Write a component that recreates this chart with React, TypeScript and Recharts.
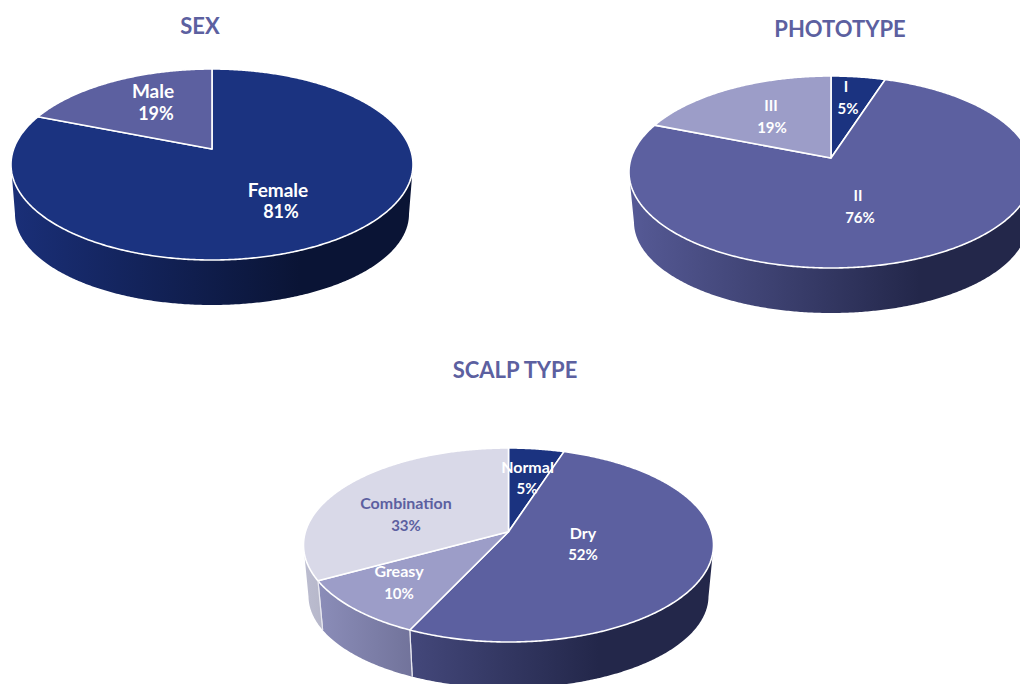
import React from 'react';
import { PieChart, Pie } from 'recharts';

const NAVY = '#1b3380';
const INDIGO = '#5c60a0';
const LAVENDER = '#9c9dc8';
const MIST = '#d9d9e8';

const sexCategories = ['Female', 'Male'];
const sexValues = [81, 19];
const sexColors = [NAVY, INDIGO];

const phototypeCategories = ['I', 'II', 'III'];
const phototypeValues = [5, 76, 19];
const phototypeColors = [NAVY, INDIGO, LAVENDER];

const scalpCategories = ['Normal', 'Dry', 'Greasy', 'Combination'];
const scalpValues = [5, 52, 10, 33];
const scalpColors = [NAVY, INDIGO, LAVENDER, MIST];

// side wall shading per slice colour: left end, then the dark end
const wallShades: Record<string, [string, string]> = {
  [NAVY]: ['#1a2f78', '#0a1435'],
  [INDIGO]: ['#565a96', '#23274a'],
  [LAVENDER]: ['#8f91bd', '#3f4060'],
  [MIST]: ['#bcbdd0', '#606070'],
};

// label anchors per slice: name x, name y, percent x, percent y
const sexLabelAt = [
  [278, 189, 281, 211],
  [153, 90, 156, 113],
];
const phototypeLabelAt = [
  [846, 86, 848, 108],
  [858, 195, 860, 217],
  [771, 105, 772, 127],
];
const scalpLabelAt = [
  [527.5, 466, 527, 488],
  [583, 532, 583, 554],
  [399, 570, 399, 593],
  [406, 502, 406, 525],
];

interface Disc {
  id: string;
  cx: number;
  cy: number;
  rx: number;
  ry: number;
  // how far the slice apex sits above the ellipse centre, as a share of ry
  tilt: number;
  bottomCy: number;
  bottomRx: number;
  bottomRy: number;
}

const sexDisc: Disc = { id: 'sex', cx: 212, cy: 164.5, rx: 201, ry: 95.5, tilt: 0.162, bottomCy: 214, bottomRx: 197, bottomRy: 91 };
const phototypeDisc: Disc = { id: 'photo', cx: 831, cy: 172, rx: 202, ry: 96, tilt: 0.146, bottomCy: 222, bottomRx: 197, bottomRy: 91 };
const scalpDisc: Disc = { id: 'scalp', cx: 508.5, cy: 545, rx: 205, ry: 97, tilt: 0.137, bottomCy: 596, bottomRx: 200, bottomRy: 92 };

const toRows = (names: string[], values: number[], colors: string[]) =>
  names.map((name, i) => ({ name, value: values[i], fill: colors[i] }));

// perspective map of the unit disc: keeps the rim on the ellipse, moves the centre up
const project = (clockDeg: number, tilt: number) => {
  const a = (clockDeg * Math.PI) / 180;
  const u = Math.sin(a);
  const v = Math.cos(a);
  const w = 1 + tilt * v;
  return { u: (u * Math.sqrt(1 - tilt * tilt)) / w, v: (v + tilt) / w };
};

const pathOf = (pts: number[][]) =>
  pts.map((p, i) => `${i ? 'L' : 'M'}${p[0].toFixed(2)} ${p[1].toFixed(2)}`).join(' ');

const makeSlice = (d: Disc) => (props: any) => {
  const from = 90 - props.startAngle;
  const to = 90 - props.endAngle;
  const steps = Math.max(2, Math.ceil((to - from) * 2));
  const rim = Array.from({ length: steps + 1 }, (_, i) => project(from + ((to - from) * i) / steps, d.tilt));
  const top = (p: { u: number; v: number }) => [d.cx + d.rx * p.u, d.cy - d.ry * p.v];
  const bottom = (p: { u: number; v: number }) => [d.cx + d.bottomRx * p.u, d.bottomCy - d.bottomRy * p.v];

  const apexY = d.cy - d.ry * d.tilt;
  const face = `${pathOf([[d.cx, apexY], ...rim.map(top)])} Z`;

  const lower = rim.filter((p) => p.v <= 0);
  const wall = lower.length > 1 ? `${pathOf([...lower.map(top), ...lower.map(bottom).reverse()])} Z` : null;
  const seams = [rim[0], rim[rim.length - 1]].filter((p) => p.v < 0);
  const shades = wallShades[props.fill];
  const gradId = `wall-${d.id}-${props.index}`;

  return (
    <g>
      <defs>
        <linearGradient id={gradId} gradientUnits="userSpaceOnUse" x1={d.cx - d.rx} x2={d.cx + d.rx} y1={0} y2={0}>
          <stop offset="0" stopColor={shades[0]} />
          <stop offset="0.72" stopColor={shades[1]} />
          <stop offset="1" stopColor={shades[1]} />
        </linearGradient>
      </defs>
      {wall && <path d={wall} fill={`url(#${gradId})`} />}
      {seams.map((p, i) => (
        <path key={i} d={pathOf([top(p), bottom(p)])} stroke="#e8e8f0" strokeWidth={1.2} fill="none" />
      ))}
      <path d={face} fill={props.fill} stroke="#ffffff" strokeWidth={1.6} strokeLinejoin="round" />
    </g>
  );
};

const makeLabel = (anchors: number[][], nameSize: number, valueSize: number, darkName?: string) => (props: any) => {
  const at = anchors[props.index];
  const color = props.name === darkName ? INDIGO : '#ffffff';
  return (
    <g fontFamily="Lato, sans-serif" fontWeight={700} fill={color} textAnchor="middle" dominantBaseline="central">
      <text x={at[0]} y={at[1]} fontSize={nameSize}>{props.name}</text>
      <text x={at[2]} y={at[3]} fontSize={valueSize}>{`${props.value}%`}</text>
    </g>
  );
};

const Title = ({ x, y, children }: { x: number; y: number; children: string }) => (
  <text x={x} y={y} textAnchor="middle" dominantBaseline="central" fontFamily="Lato, sans-serif" fontWeight={700} fontSize={22} fill={INDIGO}>
    {children}
  </text>
);

const pieDefaults = {
  dataKey: 'value',
  nameKey: 'name',
  startAngle: 90,
  endAngle: -270,
  innerRadius: 0,
  stroke: 'none',
  labelLine: false,
  isAnimationActive: false,
};

export default function App() {
  return (
    <div style={{ position: 'absolute', left: 0, top: 0, width: 1020, height: 684 }}>
      <PieChart width={1020} height={684} margin={{ top: 0, right: 0, bottom: 0, left: 0 }}>
        <Pie
          {...pieDefaults}
          data={toRows(sexCategories, sexValues, sexColors)}
          cx={sexDisc.cx}
          cy={sexDisc.cy}
          outerRadius={sexDisc.rx}
          shape={makeSlice(sexDisc)}
          label={makeLabel(sexLabelAt, 19, 18)}
        />
        <Pie
          {...pieDefaults}
          data={toRows(phototypeCategories, phototypeValues, phototypeColors)}
          cx={phototypeDisc.cx}
          cy={phototypeDisc.cy}
          outerRadius={phototypeDisc.rx}
          shape={makeSlice(phototypeDisc)}
          label={makeLabel(phototypeLabelAt, 15, 15)}
        />
        <Pie
          {...pieDefaults}
          data={toRows(scalpCategories, scalpValues, scalpColors)}
          cx={scalpDisc.cx}
          cy={scalpDisc.cy}
          outerRadius={scalpDisc.rx}
          shape={makeSlice(scalpDisc)}
          label={makeLabel(scalpLabelAt, 16, 15, 'Combination')}
        />
        <Title x={200} y={25}>SEX</Title>
        <Title x={840} y={28}>PHOTOTYPE</Title>
        <Title x={515} y={369}>SCALP TYPE</Title>
      </PieChart>
    </div>
  );
}
